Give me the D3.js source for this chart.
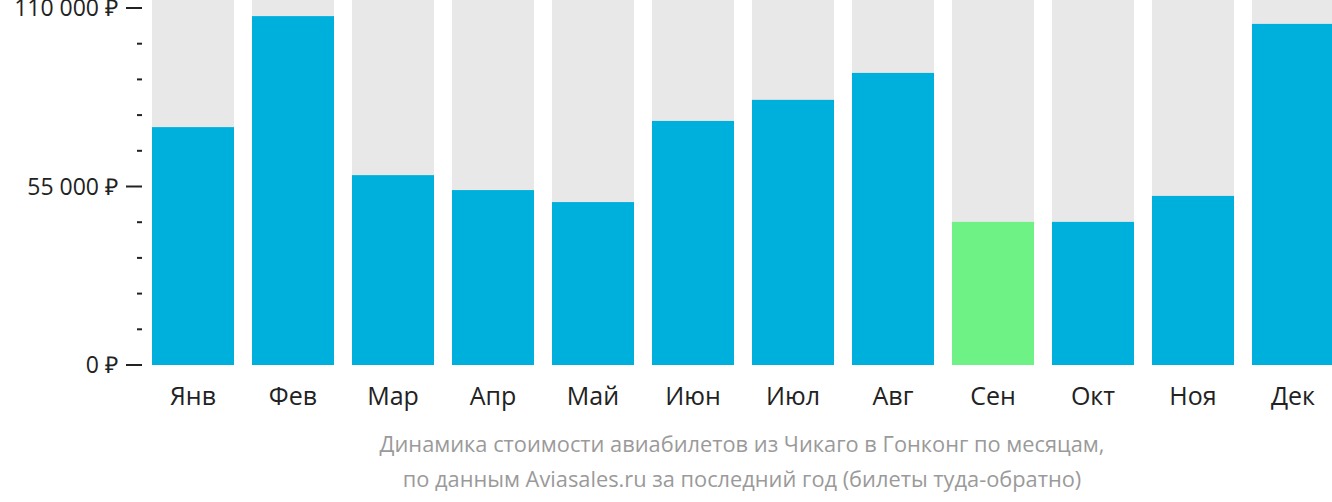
<!DOCTYPE html>
<html>
<head>
<meta charset="utf-8">
<script src="https://cdn.jsdelivr.net/npm/d3@7"></script>
<style>
body { margin: 0; background: #fff; }
text { font-family: "Open Sans", sans-serif; }
</style>
</head>
<body>
<div id="chart"></div>
<script>
const months = ['Янв','Фев','Мар','Апр','Май','Июн','Июл','Авг','Сен','Окт','Ноя','Дек'];
const prices = [73300, 107500, 58500, 53900, 50200, 75200, 81700, 90000, 44100, 44100, 52100, 105100];
const cheapestIndex = 8;
const majorTicks = [0, 55000, 110000];
const tickLabels = ['0 ₽', '55 000 ₽', '110 000 ₽'];
const caption = ['Динамика стоимости авиабилетов из Чикаго в Гонконг по месяцам,',
                 'по данным Aviasales.ru за последний год (билеты туда-обратно)'];

const width = 1332, height = 502;

const svg = d3.select('#chart').append('svg')
    .attr('width', width).attr('height', height);

const x = d3.scaleBand().domain(months)
    .range([152, 1334]).paddingInner(0.18).paddingOuter(0);
const y = d3.scaleLinear().domain([0, 110000]).range([365, 8]);

// grey backgrounds
svg.selectAll('.bg').data(months).enter().append('rect')
    .attr('x', d => x(d)).attr('y', 0)
    .attr('width', x.bandwidth()).attr('height', y(0))
    .attr('fill', '#e8e8e8');

svg.selectAll('.bar').data(prices).enter().append('rect')
    .attr('x', (d, i) => x(months[i]))
    .attr('y', d => y(d))
    .attr('width', x.bandwidth())
    .attr('height', d => y(0) - y(d))
    .attr('fill', (d, i) => i === cheapestIndex ? '#6ef286' : '#00b0dc');

// y axis ticks
const minor = d3.range(0, 110001, 11000).filter(v => !majorTicks.includes(v));
svg.selectAll('.minor').data(minor).enter().append('line')
    .attr('x1', 137).attr('x2', 142)
    .attr('y1', d => y(d)).attr('y2', d => y(d))
    .attr('stroke', '#222').attr('stroke-width', 2);
svg.selectAll('.major').data(majorTicks).enter().append('line')
    .attr('x1', 126).attr('x2', 142)
    .attr('y1', d => y(d)).attr('y2', d => y(d))
    .attr('stroke', '#222').attr('stroke-width', 2);
svg.selectAll('.ylab').data(majorTicks).enter().append('text')
    .attr('x', 118).attr('y', d => y(d) + 8)
    .attr('text-anchor', 'end').attr('font-size', 23).attr('fill', '#222')
    .text((d, i) => tickLabels[i]);

// x labels
svg.selectAll('.xlab').data(months).enter().append('text')
    .attr('x', d => x(d) + x.bandwidth() / 2).attr('y', 405)
    .attr('text-anchor', 'middle').attr('font-size', 25).attr('fill', '#222')
    .text(d => d);

svg.selectAll('.cap').data(caption).enter().append('text')
    .attr('x', 742).attr('y', (d, i) => 452 + i * 35)
    .attr('text-anchor', 'middle').attr('font-size', 21.8).attr('fill', '#9a9a9a')
    .text(d => d);
</script>
</body>
</html>
